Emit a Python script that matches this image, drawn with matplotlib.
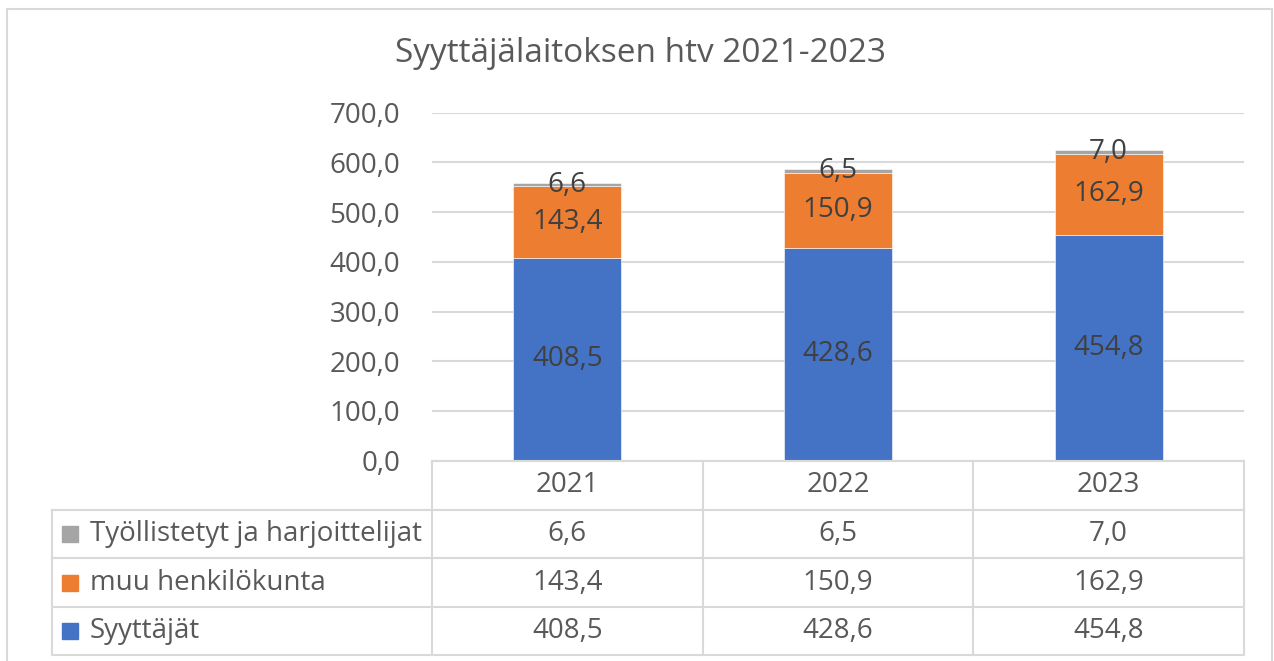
import matplotlib
matplotlib.use("Agg")
import matplotlib.pyplot as plt
import numpy as np
from matplotlib.patches import Rectangle

plt.rcParams['font.family'] = ['Open Sans', 'DejaVu Sans']

years = ['2021', '2022', '2023']
series_names = ['Syyttäjät', 'muu henkilökunta', 'Työllistetyt ja harjoittelijat']
syyttajat = [408.5, 428.6, 454.8]
muu = [143.4, 150.9, 162.9]
tyollistetyt = [6.6, 6.5, 7.0]
colors = ['#4472C4', '#ED7D31', '#A5A5A5']

W, H = 1274, 661
TXT = '#595959'
GRID = '#d9d9d9'


def fmt(v):
    return f"{v:.1f}".replace('.', ',')


def fx(px):
    return px / W


def fy(py):
    return 1 - py / H


fig = plt.figure(figsize=(W / 100, H / 100), dpi=100)

# outer chart border
fig.add_artist(Rectangle((fx(7), fy(668)), fx(1272) - fx(7), fy(9) - fy(668),
                         transform=fig.transFigure, fill=False,
                         edgecolor=GRID, lw=1.5))

fig.text(0.503, fy(53), 'Syyttäjälaitoksen htv 2021-2023', ha='center', va='center',
         fontsize=24, color=TXT)

# plot area
left, right, top, bottom = 432, 1244, 112.7, 460.6
ax = fig.add_axes([fx(left), fy(bottom), fx(right) - fx(left), fy(top) - fy(bottom)])

x = np.arange(len(years))
data = [syyttajat, muu, tyollistetyt]
base = np.zeros(len(years))
for vals, col in zip(data, colors):
    vals = np.array(vals)
    ax.bar(x, vals, width=0.4, bottom=base, color=col, zorder=2,
           edgecolor='white', linewidth=0.4)
    for xi, b, v in zip(x, base, vals):
        ax.text(xi, b + v / 2, fmt(v), ha='center', va='center',
                fontsize=20, color='#404040', zorder=3)
    base = base + vals

ax.set_xlim(-0.5, len(years) - 0.5)
ax.set_ylim(0, 700)
ax.set_yticks(np.arange(0, 701, 100))
ax.set_yticklabels([fmt(v) for v in np.arange(0, 701, 100)])
ax.tick_params(axis='y', length=0, pad=23, labelsize=20, labelcolor=TXT)
ax.set_xticks([])
ax.grid(axis='y', color=GRID, lw=1.5, zorder=0)
for s in ax.spines.values():
    s.set_visible(False)

# data table below the plot, drawn in pixel coordinates
tab_left, tab_bottom = 52, 655
tab = fig.add_axes([fx(tab_left), fy(tab_bottom), fx(right) - fx(tab_left),
                    fy(bottom) - fy(tab_bottom)])
tab.set_xlim(tab_left, right)
tab.set_ylim(tab_bottom, bottom)
tab.axis('off')

col_w = (right - left) / len(years)
col_edges = [left + i * col_w for i in range(len(years) + 1)]
row_edges = [bottom, 510, 558.3, 606.7, tab_bottom]

lk = dict(color=GRID, lw=1.5, solid_capstyle='projecting', clip_on=False)
tab.plot([left, right], [row_edges[0]] * 2, **lk)
for ry in row_edges[1:]:
    tab.plot([tab_left, right], [ry, ry], **lk)
tab.plot([tab_left, tab_left], [row_edges[1], tab_bottom], **lk)
for cx in col_edges:
    tab.plot([cx, cx], [bottom, tab_bottom], **lk)

for i, yr in enumerate(years):
    cx = (col_edges[i] + col_edges[i + 1]) / 2
    tab.text(cx, (row_edges[0] + row_edges[1]) / 2, yr, ha='center', va='center',
             fontsize=20, color=TXT)

# rows: top row is the last series
for r, si in enumerate([2, 1, 0]):
    cy = (row_edges[r + 1] + row_edges[r + 2]) / 2
    tab.add_patch(Rectangle((62, cy - 8), 16, 16, color=colors[si], clip_on=False))
    tab.text(90, cy, series_names[si], ha='left', va='center',
             fontsize=20, color=TXT)
    for i, v in enumerate(data[si]):
        cx = (col_edges[i] + col_edges[i + 1]) / 2
        tab.text(cx, cy, fmt(v), ha='center', va='center', fontsize=20, color=TXT)

fig.savefig('out.png', dpi=100)
